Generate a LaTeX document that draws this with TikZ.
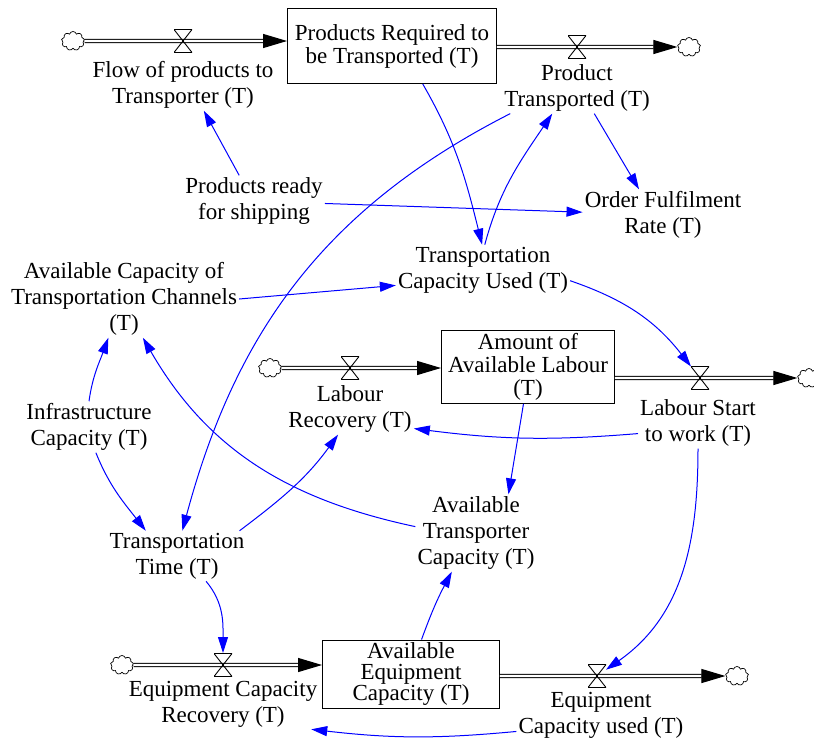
\documentclass[tikz,border=0pt]{standalone}
\usepackage{fontspec}
\setmainfont{Liberation Serif}
\usetikzlibrary{arrows.meta,shapes.symbols}
\definecolor{linkblue}{RGB}{0,0,255}

\begin{document}
\begin{tikzpicture}[x=1pt, y=1pt,
  every node/.style={font=\fontsize{23}{26}\selectfont},
  stock/.style={draw, line width=0.9pt, align=center, inner sep=0pt, font=\fontsize{23}{23}\selectfont},
  aux/.style={align=center, inner sep=2pt},
  valve/.style={minimum width=18pt, minimum height=24pt, inner sep=0pt, outer sep=0pt,
    path picture={\draw[line width=0.9pt]
      ([yshift=-0.5pt]path picture bounding box.north west) -- ([yshift=-0.5pt]path picture bounding box.north east)
      -- ([yshift=0.5pt]path picture bounding box.south west) -- ([yshift=0.5pt]path picture bounding box.south east) -- cycle;}},
  sink/.style={cloud, cloud puffs=9, aspect=1.2, draw, line width=0.7pt, inner sep=0pt, minimum width=23pt, minimum height=19pt},
  pipe/.style={double, double distance=2.2pt, line width=1.1pt, -{Triangle[length=24pt,width=14pt]}},
  link/.style={linkblue, line width=1pt, -{Triangle[length=16pt,width=10pt]}},
]
\useasboundingbox (0,0) rectangle (814,-742);

% stocks
\node[stock, minimum width=209pt, minimum height=75pt] (prt) at (392,-46) {Products Required to\\be Transported (T)};
\node[stock, minimum width=173pt, minimum height=73pt] (aal) at (528,-367) {Amount of\\Available Labour\\(T)};
\node[stock, minimum width=177pt, minimum height=68pt, font=\fontsize{23}{21}\selectfont] (aec) at (411,-674) {Available\\Equipment\\Capacity (T)};

% clouds and pipes
\node[sink] (src1) at (73,-41) {};
\node[sink] (snk1) at (689,-47) {};
\node[sink] (src2) at (270,-368) {};
\node[sink] (snk2) at (809,-378) {};
\node[sink] (src3) at (122,-665) {};
\node[sink] (snk3) at (737,-676) {};
\draw[pipe] (src1) -- (src1 -| prt.west);
\draw[pipe] (prt.east |- snk1) -- (snk1);
\draw[pipe] (src2) -- (src2 -| aal.west);
\draw[pipe] (aal.east |- snk2) -- (snk2);
\draw[pipe] (src3) -- (src3 -| aec.west);
\draw[pipe] (aec.east |- snk3) -- (snk3);

% valves and flow names
\node[valve] (vfpt) at (183,-41) {};
\node[valve] (vptr) at (577,-47) {};
\node[valve] (vlrec) at (350,-368) {};
\node[valve] (vlstw) at (700,-378) {};
\node[valve] (vecr) at (223,-665) {};
\node[valve] (vecu) at (597,-676) {};
\node[aux] (fpt) at (183,-85) {Flow of products to\\Transporter (T)};
\node[aux] (ptr) at (577,-88) {Product\\Transported (T)};
\node[aux] (lrec) at (350,-409) {Labour\\Recovery (T)};
\node[aux] (lstw) at (698,-423) {Labour Start\\to work (T)};
\node[aux] (ecr) at (223,-704) {Equipment Capacity\\Recovery (T)};
\node[aux] (ecu) at (601,-715) {Equipment\\Capacity used (T)};

% auxiliaries
\node[aux] (prs) at (254,-201) {Products ready\\for shipping};
\node[aux] (ofr) at (663,-215) {Order Fulfilment\\Rate (T)};
\node[aux] (tcu) at (483,-270) {Transportation\\Capacity Used (T)};
\node[aux] (acc) at (124,-299) {Available Capacity of\\Transportation Channels\\(T)};
\node[aux] (ic) at (89,-427) {Infrastructure\\Capacity (T)};
\node[aux] (atc) at (476,-533) {Available\\Transporter\\Capacity (T)};
\node[aux] (tt) at (177,-556) {Transportation\\Time (T)};

% links
\draw[link] (prs.120) -- (fpt.-51);
\draw[link] (prs.-2) -- (ofr.178);
\draw[link] (prt.-51) to[out=-60,in=104] (tcu.92);
\draw[link] (tcu.86) to[out=75,in=-124] (ptr.-134);
\draw[link] (ptr.-56) -- (ofr.133);
\draw[link] (ptr.201) to[out=207,in=75] (tt.78);
\draw[link] (acc.east) -- (tcu.-170);
\draw[link] (tcu.-7) to[out=-19,in=128] (vlstw);
\draw[link] (aal.-97) -- (atc.50);
\draw[link] (lstw.190) to[bend left=6] (lrec.-17);
\draw[link] (lstw) to[out=-90,in=35] (vecu);
\draw[link] (ic.north) to[out=82,in=-110] (acc.-112);
\draw[link] (ic.-75) to[out=-68,in=128] (tt.141);
\draw[link] (atc.174) to[out=168,in=-60] (acc.-64);
\draw[link] (tt.22) to[out=37,in=-126] (lrec.-115);
\draw[link] (tt.-41) to[out=-50,in=90] (vecr);
\draw[link] (aec.73) to[out=70,in=-118] (atc.-122);
\draw[link] (ecu.191) to[bend left=6] (ecr.-16);
\end{tikzpicture}
\end{document}
